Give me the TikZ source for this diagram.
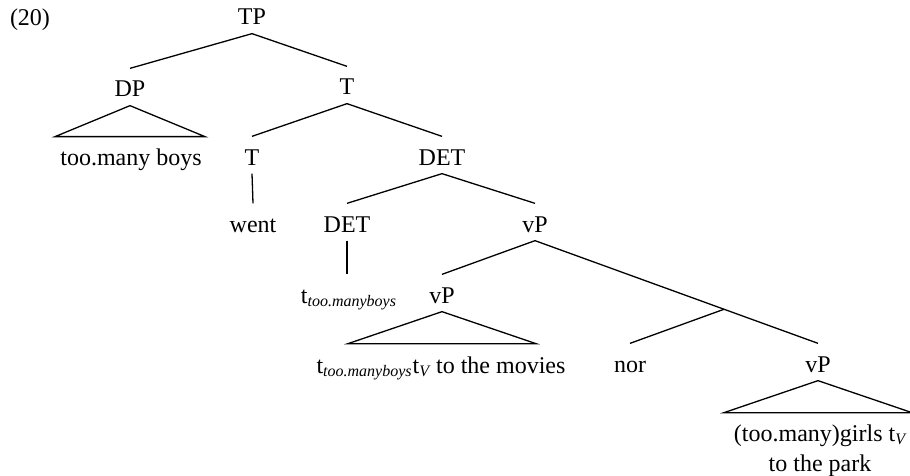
\documentclass[tikz,border=0pt]{standalone}
\usepackage{fontspec}
\setmainfont{Liberation Serif}
\newcommand{\trsub}[1]{\textsubscript{\itshape #1}}

\begin{document}
\begin{tikzpicture}[x=0.5pt,y=-0.5pt,line width=0.65pt,
    every node/.style={font=\fontsize{12}{15}\selectfont},
    cat/.style={anchor=base,inner sep=0pt,text height=14pt,text depth=4pt}] %20
    \useasboundingbox (0,0) rectangle (910,476);

    \node[anchor=base] (ex) at (30,26) {(20)};

    \node[cat] (TP) at (252,25) {TP};
    \node[cat] (DP) at (130,97) {DP};
    \node[cat] (T2) at (347,95) {T};
    \node[cat] (tmb) at (131,165) {too.many boys};
    \node[cat] (T3) at (252,165) {T};
    \node[cat] (DET3) at (442,165) {DET};
    \node[cat] (went) at (253,232) {went};
    \node[cat] (DET4) at (347,232) {DET};
    \node[cat] (vP3) at (535,232) {vP};
    \node[cat] (tr1) at (349,303) {t\trsub{too.manyboys}};
    \node[cat] (vP4) at (442,303) {vP};
    \node[cat] (movies) at (441,373) {t\trsub{too.manyboys}t\trsub{V} to the movies};
    \node[cat] (nor) at (630,372) {nor};
    \node[cat] (vP5) at (818,372) {vP};
    \node[anchor=base,inner sep=0pt,align=center] (girls) at (820,471) {(too.many)girls t\trsub{V}\\to the park};

    \draw (TP.south) -- (DP.north);
    \draw (TP.south) -- (T2.north);
    \draw (DP.south) -- ++(-75,31) -- ++(150,0) -- cycle;
    \draw (T2.south) -- (T3.north);
    \draw (T2.south) -- (DET3.north);
    \draw (T3.south) -- (went.north);
    \draw (DET3.south) -- (DET4.north);
    \draw (DET3.south) -- (vP3.north);
    \draw (DET4.south) -- (DET4.south |- tr1.north);
    \draw (vP3.south) -- (vP4.north);
    \draw (vP3.south) -- coordinate[pos=0.668] (conj) (vP5.north);
    \draw (conj) -- (nor.north);
    \draw (vP4.south) -- ++(-94,32) -- ++(188,0) -- cycle;
    \draw (vP5.south) -- ++(-94,32) -- ++(188,0) -- cycle;
\end{tikzpicture}
\end{document}
